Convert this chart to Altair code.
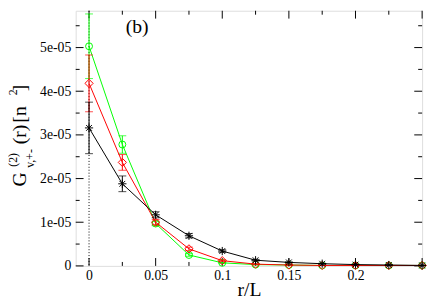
import altair as alt
import pandas as pd

# ---- data (values in units of 1e-05) ----
r_vals = [0, 0.025, 0.05, 0.075, 0.1, 0.125, 0.15, 0.175, 0.2, 0.225, 0.25]
green_vals = [5.03, 2.78, 0.97, 0.25, 0.07, 0.03, 0.02, 0.01, 0.01, 0.01, 0.01]
green_err = [0.74, 0.20, 0.05, 0.03, 0.01, 0.01, 0.0, 0.0, 0.0, 0.0, 0.0]
red_vals = [4.18, 2.37, 1.00, 0.39, 0.12, 0.04, 0.02, 0.01, 0.01, 0.01, 0.01]
red_err = [0.65, 0.18, 0.06, 0.04, 0.02, 0.01, 0.0, 0.0, 0.0, 0.0, 0.0]
black_vals = [3.16, 1.88, 1.17, 0.69, 0.34, 0.13, 0.08, 0.05, 0.03, 0.02, 0.01]
black_err = [0.59, 0.18, 0.07, 0.05, 0.03, 0.02, 0.01, 0.01, 0.01, 0.01, 0.01]

x_major = [0, 0.05, 0.1, 0.15, 0.2, 0.25]
x_minor = [0.025, 0.075, 0.125, 0.175, 0.225]
x_labels = [0, 0.05, 0.1, 0.15, 0.2]
y_major = [0, 1e-05, 2e-05, 3e-05, 4e-05, 5e-05]
y_minor = [0.5e-05, 1.5e-05, 2.5e-05, 3.5e-05, 4.5e-05, 5.5e-05]

SCALE = 1e-05
FONT = "Liberation Serif"
W, H = 353, 260

xs = alt.Scale(domain=[-0.01, 0.25], nice=False, zero=False)
ys = alt.Scale(domain=[0, 5.843e-05], nice=False, zero=False)

x_axis = alt.Axis(values=x_labels, format="~g", ticks=False, domain=False, grid=False,
                  labelFont=FONT, labelFontSize=14, labelPadding=3, labelColor="black",
                  labelFlush=False, title="r/L", titleFont=FONT, titleFontSize=20,
                  titleFontWeight="normal", titleColor="black", titleY=30,
                  titleBaseline="alphabetic")
y_axis = alt.Axis(values=y_major, ticks=False, domain=False, grid=False,
                  labelFont=FONT, labelFontSize=14, labelPadding=5, labelColor="black",
                  labelFlush=False, title=None,
                  labelExpr="datum.value == 0 ? '0' : round(datum.value*1e5) + 'e-05'")

STAR = "M-1,0L1,0M0,-1L0,1M-0.7,-0.7L0.7,0.7M-0.7,0.7L0.7,-0.7"


def series(vals, errs, color, shape, size):
    df = pd.DataFrame({
        "r": r_vals,
        "g": [v * SCALE for v in vals],
        "lo": [(v - e) * SCALE for v, e in zip(vals, errs)],
        "hi": [(v + e) * SCALE for v, e in zip(vals, errs)],
    })
    base = alt.Chart(df)
    line = base.mark_line(color=color, strokeWidth=1).encode(
        x=alt.X("r:Q", scale=xs, axis=x_axis), y=alt.Y("g:Q", scale=ys, axis=y_axis))
    bar = base.mark_rule(color=color, strokeWidth=1).encode(
        x=alt.X("r:Q", axis=x_axis), y=alt.Y("lo:Q", axis=y_axis), y2="hi:Q")
    cap_hi = base.mark_tick(color=color, orient="horizontal", size=8, thickness=1).encode(
        x=alt.X("r:Q", axis=x_axis), y=alt.Y("hi:Q", axis=y_axis))
    cap_lo = base.mark_tick(color=color, orient="horizontal", size=8, thickness=1).encode(
        x=alt.X("r:Q", axis=x_axis), y=alt.Y("lo:Q", axis=y_axis))
    pts = base.mark_point(color=color, shape=shape, size=size, filled=False,
                          strokeWidth=1, opacity=1).encode(
        x=alt.X("r:Q", axis=x_axis), y=alt.Y("g:Q", axis=y_axis))
    return [line, bar, cap_hi, cap_lo, pts]


one = alt.Data(values=[{}])

dotted = alt.Chart(one).mark_rule(color="black", strokeDash=[1, 2], strokeWidth=1).encode(
    x=alt.X(datum=0, axis=x_axis, scale=xs))


def xticks(vals, length):
    d = alt.Chart(pd.DataFrame({"t": vals}))
    b = d.mark_rule(color="black", strokeWidth=1).encode(
        x=alt.X("t:Q", axis=x_axis), y=alt.value(H), y2=alt.value(H - length))
    t = d.mark_rule(color="black", strokeWidth=1).encode(
        x=alt.X("t:Q", axis=x_axis), y=alt.value(0), y2=alt.value(length))
    return [b, t]


def yticks(vals, length):
    d = alt.Chart(pd.DataFrame({"t": vals}))
    lft = d.mark_rule(color="black", strokeWidth=1).encode(
        y=alt.Y("t:Q", axis=y_axis, scale=ys), x=alt.value(0), x2=alt.value(length))
    rgt = d.mark_rule(color="black", strokeWidth=1).encode(
        y=alt.Y("t:Q", axis=y_axis), x=alt.value(W), x2=alt.value(W - length))
    return [lft, rgt]


ticks = xticks(x_major, 8) + xticks(x_minor, 4) + yticks(y_major, 8) + yticks(y_minor, 4)


def txt(s, size, x, y, angle=0):
    return alt.Chart(one).mark_text(text=s, font=FONT, fontSize=size, color="black",
                                     align="left", baseline="alphabetic",
                                     angle=angle).encode(
        x=alt.value(x), y=alt.value(y), angle=alt.value(angle))


# y-axis title pieces (rotated, read bottom to top)
MAIN_X, SUP_X, SUB_X = -51, -60, -43
texts = [
    txt("(b)", 20, 51, 23),
    txt("G", 20, MAIN_X, 179, 270),
    txt("(2)", 12, SUP_X, 159, 270),
    txt("v,+-", 12, SUB_X, 160, 270),
    txt("(r)", 20, MAIN_X, 136, 270),
    txt("[n", 20, MAIN_X, 114, 270),
    txt("2", 12, SUP_X, 86, 270),
    txt("]", 20, MAIN_X, 82, 270),
]

layers = ([dotted] + ticks
          + series(green_vals, green_err, "#00ff00", "circle", 50)
          + series(red_vals, red_err, "#ff0000", "diamond", 70)
          + series(black_vals, black_err, "#000000", STAR, 70)
          + texts)

chart = alt.layer(*layers).properties(
    width=W, height=H,
    autosize=alt.AutoSizeParams(type="none"),
    padding={"left": 69, "top": 0, "right": 6, "bottom": 35},
).configure_view(
    stroke="#222222", strokeWidth=1.5
).configure_axis(
    labelFont=FONT, labelFontSize=14, labelColor="black",
    titleFont=FONT, titleFontWeight="normal", titleColor="black"
).configure(background="white")

chart.save("out.html", embed_options={"renderer": "svg", "actions": False})
